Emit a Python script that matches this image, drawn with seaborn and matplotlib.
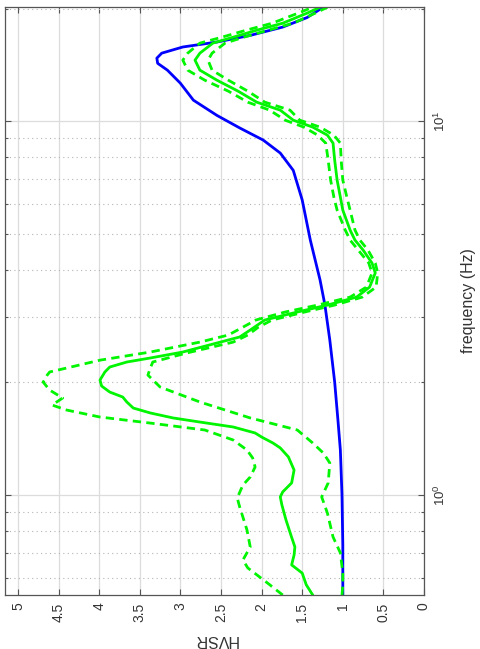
import matplotlib
matplotlib.use("Agg")
import matplotlib.pyplot as plt
import seaborn as sns
from matplotlib.ticker import FixedLocator, FixedFormatter, NullFormatter

# ---- data: HVSR curves vs frequency (Hz) ----
mean_freq = [0.540, 0.575, 0.618, 0.650, 0.691, 0.726, 0.782, 0.858, 0.940, 0.988,
             1.019, 1.077, 1.166, 1.264, 1.336, 1.377, 1.429, 1.465, 1.520, 1.567,
             1.607, 1.657, 1.708, 1.773, 1.828, 1.885, 1.956, 2.030, 2.133, 2.199,
             2.268, 2.325, 2.412, 2.550, 2.646, 2.762, 2.938, 3.086, 3.221, 3.383,
             3.598, 3.924, 4.172, 4.520, 4.806, 5.112, 5.781, 6.263, 6.955, 7.865,
             8.733, 9.175, 9.638, 10.06, 10.70, 11.24, 12.03, 12.87, 13.69, 14.56,
             15.20, 16.17, 16.77, 17.51, 18.28, 19.45, 20.17]
mean_hvsr = [1.37, 1.45, 1.50, 1.63, 1.60, 1.59, 1.64, 1.70, 1.75, 1.77,
             1.74, 1.63, 1.60, 1.67, 1.77, 1.86, 2.00, 2.08, 2.35, 2.76,
             3.09, 3.37, 3.58, 3.66, 3.71, 3.87, 3.97, 3.99, 3.93, 3.87,
             3.66, 3.37, 2.97, 2.55, 2.27, 2.14, 1.96, 1.56, 1.19, 0.83,
             0.67, 0.60, 0.64, 0.75, 0.85, 0.91, 1.00, 1.03, 1.07, 1.10,
             1.12, 1.19, 1.37, 1.61, 1.77, 2.06, 2.29, 2.55, 2.76, 2.82,
             2.76, 2.60, 2.35, 2.06, 1.74, 1.44, 1.28]

upper_freq = [0.540, 0.582, 0.638, 0.670, 0.726, 0.806, 0.929, 0.982, 1.063, 1.117,
              1.188, 1.256, 1.319, 1.403, 1.492, 1.557, 1.616, 1.687, 1.740, 1.817,
              1.908, 2.004, 2.093, 2.133, 2.186, 2.294, 2.412, 2.564, 2.678, 2.811,
              2.938, 3.086, 3.221, 3.383, 3.598, 3.924, 4.172, 4.520, 4.806, 5.112,
              5.781, 6.263, 6.955, 7.865, 8.733, 9.175, 9.638, 10.06, 10.70, 11.24,
              12.03, 12.87, 13.69, 14.56, 15.20, 16.17, 16.77, 17.51, 18.28, 19.45,
              20.17]
upper_hvsr = [1.74, 1.93, 2.17, 2.23, 2.14, 2.18, 2.27, 2.30, 2.23, 2.14,
              2.08, 2.11, 2.18, 2.35, 2.70, 3.37, 3.99, 4.40, 4.58, 4.45,
              4.61, 4.69, 4.64, 4.61, 4.40, 3.99, 3.37, 2.76, 2.41, 2.23,
              2.07, 1.71, 1.31, 0.91, 0.71, 0.64, 0.68, 0.81, 0.91, 0.97,
              1.07, 1.11, 1.15, 1.18, 1.21, 1.31, 1.48, 1.71, 1.90, 2.17,
              2.41, 2.70, 2.91, 2.97, 2.91, 2.76, 2.49, 2.19, 1.87, 1.55,
              1.37]

lower_freq = [0.540, 0.575, 0.618, 0.700, 0.772, 0.895, 0.988, 1.077, 1.218, 1.295,
              1.377, 1.492, 1.607, 1.773, 1.944, 2.093, 2.186, 2.268, 2.398, 2.564,
              2.678, 2.811, 2.938, 3.086, 3.221, 3.383, 3.598, 3.924, 4.172, 4.520,
              4.806, 5.112, 5.781, 6.263, 6.955, 7.865, 8.733, 9.175, 9.638, 10.06,
              10.70, 11.24, 12.03, 12.87, 13.69, 14.56, 15.20, 16.17, 16.77, 17.51,
              18.28, 19.45, 20.17]
lower_hvsr = [1.01, 1.00, 1.00, 1.03, 1.12, 1.19, 1.26, 1.18, 1.16, 1.24,
              1.37, 1.56, 2.14, 2.76, 3.25, 3.40, 3.37, 3.34, 2.92, 2.35,
              2.17, 2.04, 1.87, 1.47, 1.10, 0.76, 0.59, 0.57, 0.60, 0.69,
              0.79, 0.85, 0.91, 0.95, 1.00, 1.02, 1.03, 1.11, 1.28, 1.53,
              1.65, 1.96, 2.17, 2.41, 2.61, 2.66, 2.61, 2.45, 2.22, 1.92,
              1.61, 1.34, 1.19]

model_freq = [0.540, 0.735, 1.000, 1.319, 1.587, 2.004, 2.597, 3.221, 3.758, 4.806,
              6.154, 7.385, 8.215, 8.898, 9.591, 10.36, 11.38, 12.63, 13.69, 14.28,
              14.74, 15.20, 15.79, 16.28, 16.96, 17.85, 18.93, 20.05]
model_hvsr = [1.00, 1.00, 1.01, 1.03, 1.06, 1.10, 1.16, 1.22, 1.28, 1.40,
              1.50, 1.61, 1.77, 1.98, 2.27, 2.55, 2.84, 3.00, 3.16, 3.28,
              3.29, 3.23, 2.97, 2.55, 2.14, 1.74, 1.44, 1.26]

hvsr_ticks = [0, 0.5, 1, 1.5, 2, 2.5, 3, 3.5, 4, 4.5, 5]
hvsr_labels = ["0", "0.5", "1", "1.5", "2", "2.5", "3", "3.5", "4", "4.5", "5"]
freq_major = [1, 10]
freq_labels = [r"$\mathdefault{10^{0}}$", r"$\mathdefault{10^{1}}$"]
freq_minor = [0.6, 0.7, 0.8, 0.9, 2, 3, 4, 5, 6, 7, 8, 9, 20]

# ---- styling ----
sns.set_theme(style="white")
plt.rcParams["font.family"] = ["Liberation Sans", "DejaVu Sans"]
plt.rcParams["mathtext.fontset"] = "custom"
plt.rcParams["mathtext.rm"] = "Liberation Sans"
plt.rcParams["mathtext.it"] = "Liberation Sans:italic"

BLUE = "#0000ff"
GREEN = "#00f500"
LW = 2.0
DASH = (0, (3.0, 1.9))

fig = plt.figure(figsize=(4.8, 6.49), dpi=100)
ax = fig.add_axes([5 / 480, 54 / 649, 419 / 480, 588 / 649])

sns.lineplot(x=model_hvsr, y=model_freq, sort=False, estimator=None,
             color=BLUE, lw=LW, ax=ax)
sns.lineplot(x=mean_hvsr, y=mean_freq, sort=False, estimator=None,
             color=GREEN, lw=LW, ax=ax)
sns.lineplot(x=upper_hvsr, y=upper_freq, sort=False, estimator=None,
             color=GREEN, lw=LW, linestyle=DASH, ax=ax)
sns.lineplot(x=lower_hvsr, y=lower_freq, sort=False, estimator=None,
             color=GREEN, lw=LW, linestyle=DASH, ax=ax)

ax.set_yscale("log")
ax.set_ylim(0.54, 20.2)
ax.set_xlim(5.16, 0)

ax.xaxis.set_major_locator(FixedLocator(hvsr_ticks))
ax.xaxis.set_major_formatter(FixedFormatter(hvsr_labels))
ax.yaxis.set_major_locator(FixedLocator(freq_major))
ax.yaxis.set_major_formatter(FixedFormatter(freq_labels))
ax.yaxis.set_minor_locator(FixedLocator(freq_minor))
ax.yaxis.set_minor_formatter(NullFormatter())

ax.grid(True, which="major", color="#dcdcdc", lw=0.9, ls="-")
ax.grid(True, which="minor", axis="y", color="#b4b4b4", lw=0.8, ls=(0, (1, 3)))
ax.set_axisbelow(True)

for sp in ax.spines.values():
    sp.set_color("#555555")
    sp.set_linewidth(0.9)

ax.tick_params(which="both", direction="in", top=True, bottom=True,
               left=True, right=True, color="#555555", width=0.8)
ax.tick_params(which="major", length=4)
ax.tick_params(which="minor", length=2.5)
ax.tick_params(axis="x", labelsize=10, pad=5.5, labelrotation=90,
               labelcolor="#333333")
ax.tick_params(axis="y", labelleft=False, labelright=True, labelsize=9.5,
               pad=6, labelrotation=90, labelcolor="#333333")
for lab in ax.get_yticklabels():
    lab.set_va("center")
    lab.set_ha("left")

ax.set_xlabel("HVSR", fontsize=11.5, color="#333333", rotation=180)
ax.xaxis.label.set_rotation_mode("default")
ax.xaxis.label.set_ha("center")
ax.xaxis.label.set_va("top")
ax.xaxis.set_label_coords(0.503, -0.063)

ax.yaxis.set_label_position("right")
ax.set_ylabel("frequency (Hz)", fontsize=11.5, color="#333333", rotation=90)
ax.yaxis.label.set_rotation_mode("default")
ax.yaxis.label.set_ha("center")
ax.yaxis.label.set_va("center")
ax.yaxis.set_label_coords((469 - 5) / 419, 0.5)

if ax.get_legend() is not None:
    ax.get_legend().remove()

fig.savefig("out.png", dpi=100)
